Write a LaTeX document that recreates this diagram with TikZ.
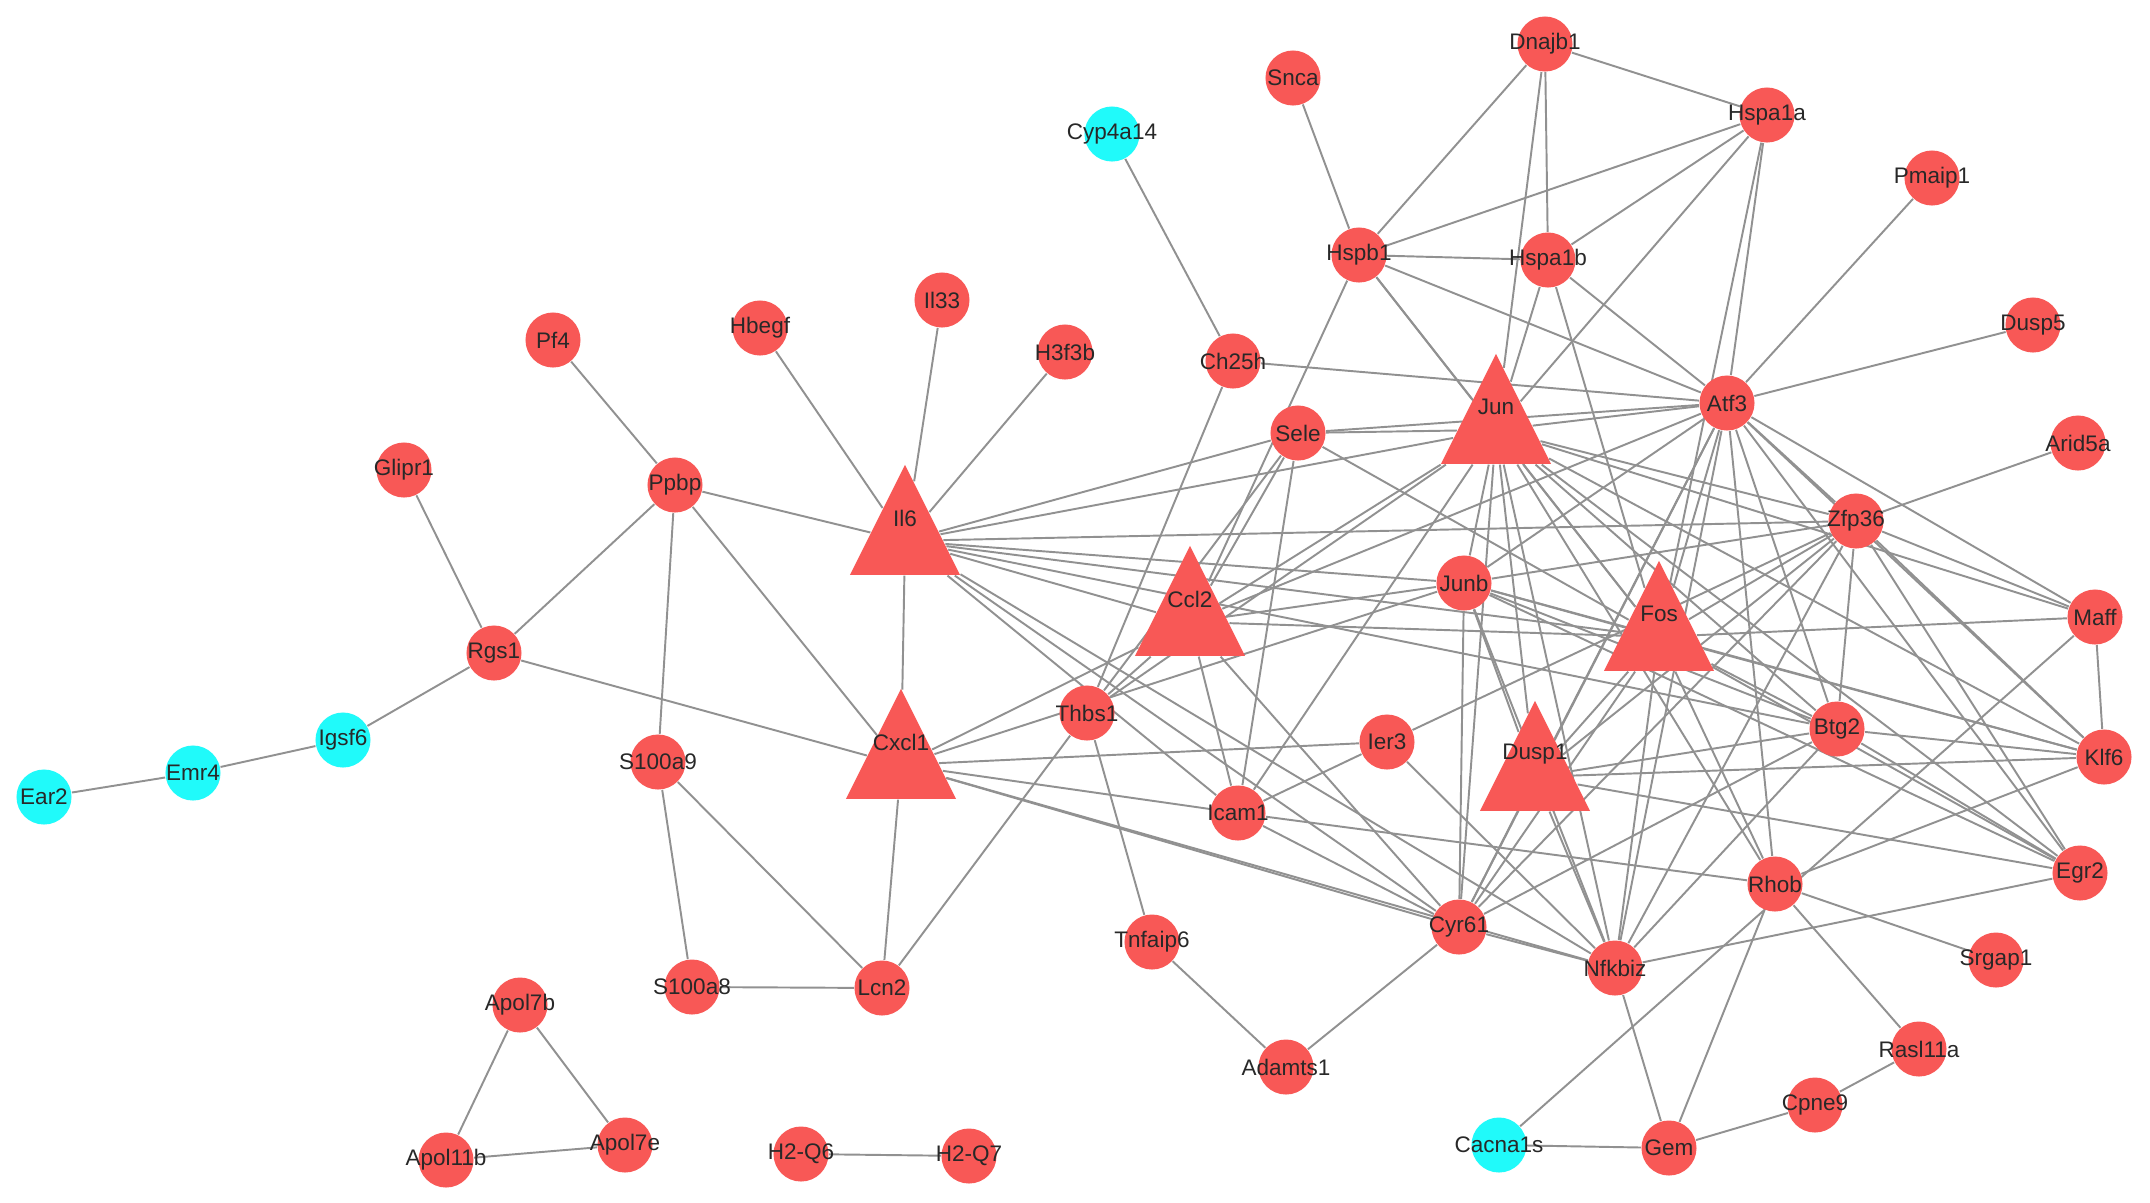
\documentclass[tikz,border=0pt]{standalone}
\usepackage{fontspec}
\setmainfont{Liberation Sans}
\usetikzlibrary{shapes.geometric,backgrounds}
\definecolor{GeneRed}{RGB}{248,88,86}
\definecolor{GeneCyan}{RGB}{32,250,250}
\definecolor{LinkGray}{RGB}{145,145,145}
\definecolor{LabelGray}{RGB}{40,40,40}
\tikzset{
  genename/.style={font=\fontsize{6.4}{7}\selectfont,text=LabelGray,inner sep=0pt},
  gene/.style={circle,fill=GeneRed,minimum size=5.5mm,inner sep=0pt,label={[genename]center:#1}},
  cgene/.style={gene=#1,fill=GeneCyan},
  hub/.style={isosceles triangle,shape border rotate=90,isosceles triangle stretches,
    minimum width=11mm,minimum height=11mm,inner sep=0pt,fill=GeneRed,anchor=apex},
  link/.style={draw=LinkGray,line width=0.55pt},
}

\begin{document}
\begin{tikzpicture}[x=0.01cm,y=-0.01cm]
  % hub genes (triangles), apex 55 above the label
  \node[hub] (jun) at (1496,352) {};   \node[genename] (junl) at (1496,407) {Jun};
  \node[hub] (il6) at (905,463) {};    \node[genename] (il6l) at (905,518) {Il6};
  \node[hub] (ccl2) at (1190,544) {};  \node[genename] (ccl2l) at (1190,599) {Ccl2};
  \node[hub] (fos) at (1659,559) {};   \node[genename] (fosl) at (1659,614) {Fos};
  \node[hub] (cxcl1) at (901,687) {};  \node[genename] (cxcl1l) at (901,742) {Cxcl1};
  \node[hub] (dusp1) at (1535,699) {}; \node[genename] (dusp1l) at (1535,754) {Dusp1};
  % other genes
  \node[gene=Dnajb1] (dnajb1) at (1545,44) {};
  \node[gene=Snca] (snca) at (1293,78) {};
  \node[gene=Hspa1a] (hspa1a) at (1767,115) {};
  \node[cgene=Cyp4a14] (cyp4a14) at (1112,134) {};
  \node[gene=Pmaip1] (pmaip1) at (1932,178) {};
  \node[gene=Hspb1] (hspb1) at (1359,255) {};
  \node[gene=Hspa1b] (hspa1b) at (1548,260) {};
  \node[gene=Il33] (il33) at (942,300) {};
  \node[gene=Hbegf] (hbegf) at (760,328) {};
  \node[gene=Pf4] (pf4) at (553,340) {};
  \node[gene=H3f3b] (h3f3b) at (1065,352) {};
  \node[gene=Ch25h] (ch25h) at (1233,361) {};
  \node[gene=Dusp5] (dusp5) at (2033,325) {};
  \node[gene=Atf3] (atf3) at (1727,403) {};
  \node[gene=Sele] (sele) at (1298,433) {};
  \node[gene=Arid5a] (arid5a) at (2078,443) {};
  \node[gene=Glipr1] (glipr1) at (404,470) {};
  \node[gene=Ppbp] (ppbp) at (675,485) {};
  \node[gene=Zfp36] (zfp36) at (1856,521) {};
  \node[gene=Junb] (junb) at (1464,583) {};
  \node[gene=Maff] (maff) at (2095,617) {};
  \node[gene=Rgs1] (rgs1) at (494,653) {};
  \node[gene=Thbs1] (thbs1) at (1087,713) {};
  \node[cgene=Igsf6] (igsf6) at (343,740) {};
  \node[gene=Ier3] (ier3) at (1387,742) {};
  \node[gene=Btg2] (btg2) at (1837,729) {};
  \node[gene=Klf6] (klf6) at (2104,757) {};
  \node[gene=S100a9] (s100a9) at (658,762) {};
  \node[cgene=Emr4] (emr4) at (193,773) {};
  \node[cgene=Ear2] (ear2) at (44,797) {};
  \node[gene=Icam1] (icam1) at (1238,813) {};
  \node[gene=Egr2] (egr2) at (2080,873) {};
  \node[gene=Rhob] (rhob) at (1775,884) {};
  \node[gene=Cyr61] (cyr61) at (1459,927) {};
  \node[gene=Tnfaip6] (tnfaip6) at (1152,942) {};
  \node[gene=Nfkbiz] (nfkbiz) at (1615,968) {};
  \node[gene=Srgap1] (srgap1) at (1996,960) {};
  \node[gene=S100a8] (s100a8) at (692,987) {};
  \node[gene=Lcn2] (lcn2) at (882,988) {};
  \node[gene=Apol7b] (apol7b) at (520,1005) {};
  \node[gene=Adamts1] (adamts1) at (1286,1067) {};
  \node[gene=Rasl11a] (rasl11a) at (1919,1049) {};
  \node[gene=Cpne9] (cpne9) at (1815,1105) {};
  \node[gene=Apol7e] (apol7e) at (625,1145) {};
  \node[gene=Apol11b] (apol11b) at (446,1160) {};
  \node[gene=H2-Q6] (h2q6) at (801,1154) {};
  \node[gene=H2-Q7] (h2q7) at (969,1156) {};
  \node[cgene=Cacna1s] (cacna1s) at (1499,1145) {};
  \node[gene=Gem] (gem) at (1669,1148) {};
  % interactions
  \begin{scope}[on background layer]
    \fill[white] (0,0) rectangle (2150,1202);
    \foreach \a/\b in {pf4/ppbp,glipr1/rgs1,ppbp/il6,ppbp/rgs1,ppbp/s100a9,ppbp/cxcl1,
      rgs1/igsf6,rgs1/cxcl1,igsf6/emr4,emr4/ear2,s100a9/s100a8,s100a9/lcn2,s100a8/lcn2,
      lcn2/cxcl1,lcn2/thbs1,apol7b/apol11b,apol7b/apol7e,apol11b/apol7e,h2q6/h2q7,
      hbegf/il6,il33/il6,h3f3b/il6,il6/cxcl1,cyp4a14/ch25h,tnfaip6/thbs1,tnfaip6/adamts1,
      adamts1/cyr61,cacna1s/gem,cacna1s/maff,gem/nfkbiz,gem/rhob,gem/cpne9,cpne9/rasl11a,
      rasl11a/rhob,rhob/srgap1,maff/klf6,arid5a/zfp36,dusp5/atf3,pmaip1/atf3,snca/hspb1,
      dnajb1/hspa1a,dnajb1/hspb1,dnajb1/hspa1b,dnajb1/jun,hspa1a/hspb1,hspa1a/hspa1b,
      hspa1a/jun,hspa1a/atf3,hspa1a/fos,hspb1/hspa1b,hspb1/jun,hspb1/fos,hspb1/atf3,
      hspb1/ccl2,hspa1b/jun,hspa1b/atf3,hspa1b/fos,ch25h/atf3,ch25h/thbs1,
      il6/sele,il6/jun,il6/zfp36,il6/junb,il6/fos,il6/ccl2,il6/btg2,il6/icam1,il6/cyr61,il6/nfkbiz,
      cxcl1/ccl2,cxcl1/junb,cxcl1/ier3,cxcl1/icam1,cxcl1/cyr61,cxcl1/nfkbiz,
      ccl2/jun,ccl2/sele,ccl2/junb,ccl2/fos,ccl2/thbs1,ccl2/icam1,ccl2/cyr61,ccl2/atf3,
      sele/jun,sele/atf3,sele/icam1,sele/thbs1,sele/fos,thbs1/jun,
      jun/junb,jun/fos,jun/atf3,jun/zfp36,jun/dusp1,jun/cyr61,jun/nfkbiz,jun/btg2,jun/egr2,
      jun/klf6,jun/maff,jun/icam1,jun/rhob,
      junb/fos,junb/zfp36,junb/atf3,junb/btg2,junb/dusp1,junb/nfkbiz,junb/cyr61,junb/egr2,junb/klf6,
      fos/atf3,fos/zfp36,fos/maff,fos/btg2,fos/klf6,fos/egr2,fos/dusp1,fos/nfkbiz,fos/cyr61,fos/rhob,
      atf3/zfp36,atf3/maff,atf3/klf6,atf3/egr2,atf3/btg2,atf3/dusp1,atf3/nfkbiz,atf3/cyr61,atf3/rhob,
      zfp36/maff,zfp36/klf6,zfp36/egr2,zfp36/btg2,zfp36/dusp1,zfp36/nfkbiz,zfp36/cyr61,zfp36/ier3,
      klf6/btg2,klf6/dusp1,klf6/rhob,egr2/nfkbiz,egr2/btg2,egr2/dusp1,
      btg2/dusp1,btg2/nfkbiz,btg2/cyr61,dusp1/cyr61,dusp1/nfkbiz,cyr61/icam1,cyr61/nfkbiz,
      nfkbiz/ier3,icam1/ier3,icam1/rhob}
      \draw[link] (\a) -- (\b);
  \end{scope}
\end{tikzpicture}
\end{document}
